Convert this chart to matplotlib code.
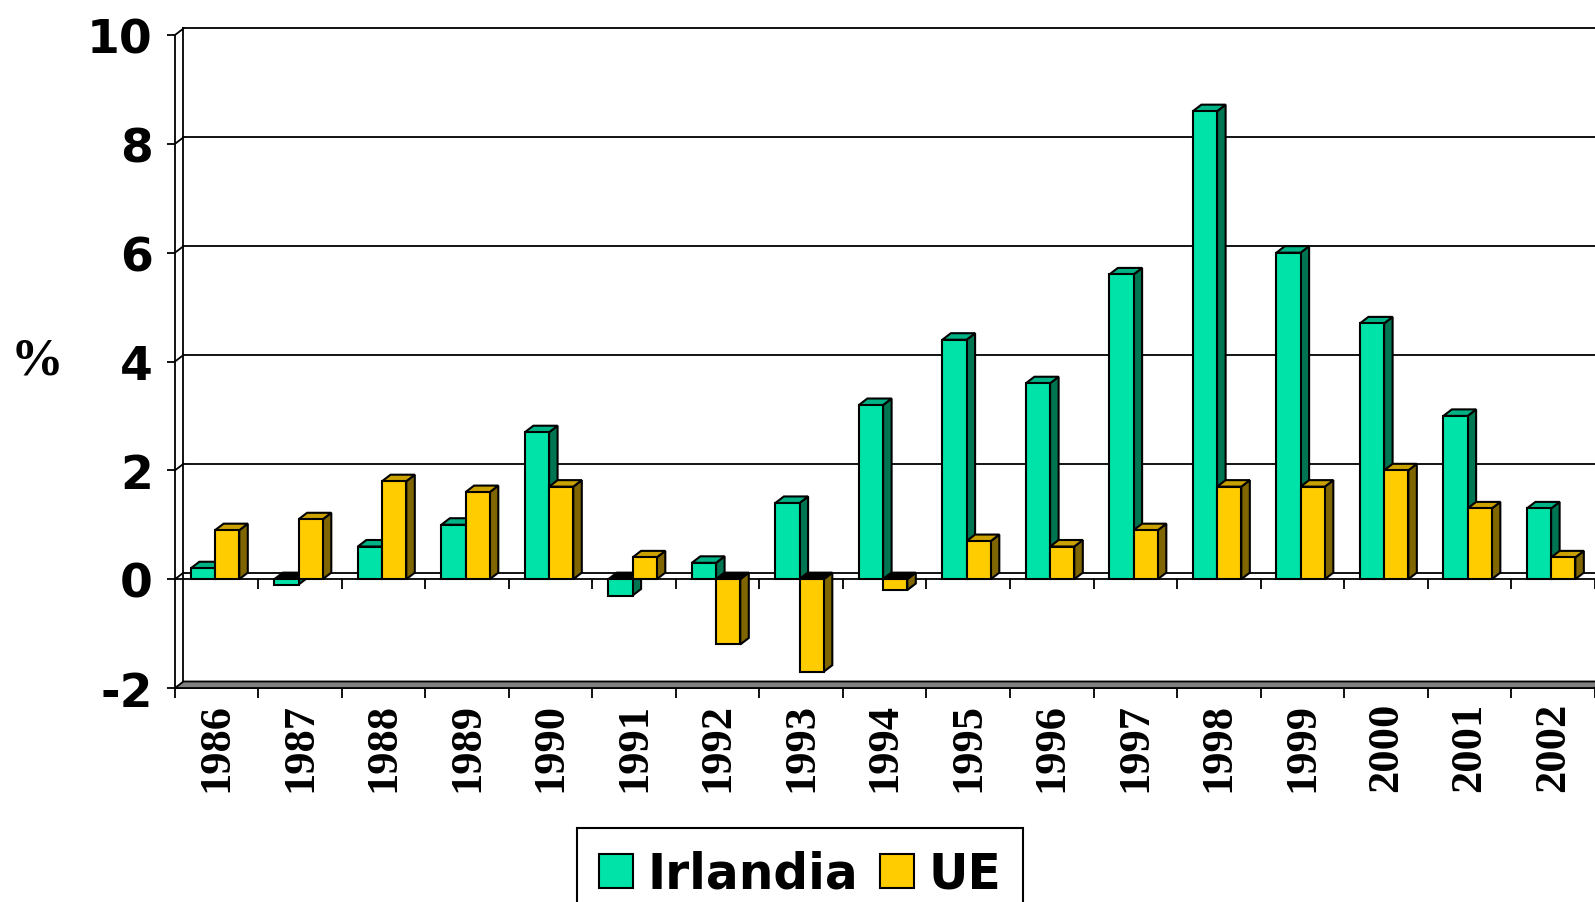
import numpy as np
import matplotlib.pyplot as plt
from matplotlib.patches import Polygon, Patch

years = ['1986', '1987', '1988', '1989', '1990', '1991', '1992', '1993', '1994',
         '1995', '1996', '1997', '1998', '1999', '2000', '2001', '2002']
irlandia = [0.2, -0.1, 0.6, 1.0, 2.7, -0.3, 0.3, 1.4, 3.2, 4.4, 3.6, 5.6, 8.6, 6.0, 4.7, 3.0, 1.3]
ue = [0.9, 1.1, 1.8, 1.6, 1.7, 0.4, -1.2, -1.7, -0.2, 0.7, 0.6, 0.9, 1.7, 1.7, 2.0, 1.3, 0.4]
yticks = [-2, 0, 2, 4, 6, 8, 10]

# front / side / top colours
green = ('#00E3A8', '#007552', '#00B386')
yellow = ('#FFCC00', '#806600', '#C9A100')

dx, dy = 0.102, 0.12   # fake 3D depth, data units
w = 0.29
n = len(years)
x = np.arange(n)

fig = plt.figure(figsize=(15.95, 9.03), dpi=100)
ax = fig.add_axes([0.1097, 0.2189, 0.89, 0.7593])
ax.set_xlim(0, n)
ax.set_ylim(-2.3, 10.3)

# back wall gridlines + little diagonals from the front axis
for v in yticks[1:]:
    ax.plot([dx, n + dx], [v + dy, v + dy], color='black', lw=1.3, zorder=1, clip_on=False)
    ax.plot([0, dx], [v, v + dy], color='black', lw=1.3, zorder=1, clip_on=False)
ax.plot([dx, dx], [-2 + dy, 10 + dy], color='black', lw=1.3, zorder=1)
# front edge of the zero plane with its ticks
ax.plot([0, n], [0, 0], color='black', lw=1.3, zorder=1)
ax.vlines(np.arange(1, n + 1), -0.18, 0, color='black', lw=1.3, zorder=1, clip_on=False)
# floor
ax.add_patch(Polygon([(0, -2), (n, -2), (n + dx, -2 + dy), (dx, -2 + dy)],
                     closed=True, facecolor='#808080', edgecolor='black', lw=1.3, zorder=1,
                     clip_on=False))


def bars3d(x0, vals, cols, z):
    ax.bar(x0, vals, width=w, align='edge', color=cols[0], edgecolor='black', lw=1.5, zorder=z + 1)
    for xi, v in zip(x0, vals):
        side = [(xi + w, 0), (xi + w, v), (xi + w + dx, v + dy), (xi + w + dx, dy)]
        ax.add_patch(Polygon(side, closed=True, facecolor=cols[1], edgecolor='black', lw=1.5, zorder=z))
        top_v = max(v, 0)
        top = [(xi, top_v), (xi + w, top_v), (xi + w + dx, top_v + dy), (xi + dx, top_v + dy)]
        fc = cols[2] if v > 0 else 'black'
        ax.add_patch(Polygon(top, closed=True, facecolor=fc, edgecolor='black', lw=1.5, zorder=z))


bars3d(x + 0.5 - 0.31, irlandia, green, 3)
bars3d(x + 0.5 - 0.02, ue, yellow, 5)

for s in ['top', 'right']:
    ax.spines[s].set_visible(False)
ax.spines['left'].set_bounds(-2, 10)
ax.spines['left'].set_linewidth(1.3)
ax.spines['bottom'].set_position(('data', -2))
ax.spines['bottom'].set_bounds(0, n)
ax.spines['bottom'].set_linewidth(1.3)
ax.spines['bottom'].set_zorder(0)

ax.set_yticks(yticks)
ax.set_yticklabels([str(v) for v in yticks], fontsize=34, fontweight='bold', family='DejaVu Sans')
ax.tick_params(axis='y', direction='out', length=6, width=1.3, pad=10)

ax.set_xticks(x + 0.5)
ax.set_xticklabels(years, rotation=90, fontsize=32, fontweight='bold', family='Liberation Serif')
ax.set_xticks(np.arange(n + 1), minor=True)
ax.tick_params(axis='x', which='major', length=0, pad=10)
ax.tick_params(axis='x', which='minor', direction='out', length=7, width=1.3)

fig.text(0.023, 0.6, '%', fontsize=38, fontweight='bold', family='Liberation Serif',
         ha='center', va='center')

handles = [Patch(facecolor=green[0], edgecolor='black', lw=1.5, label='Irlandia'),
           Patch(facecolor=yellow[0], edgecolor='black', lw=1.5, label='UE')]
leg = fig.legend(handles=handles, loc='upper center', bbox_to_anchor=(0.5016, 0.082), ncol=2,
                 prop={'family': 'DejaVu Sans', 'weight': 'bold', 'size': 35},
                 frameon=True, fancybox=False, framealpha=1, edgecolor='black',
                 handlelength=0.7, handleheight=0.7, handletextpad=0.3, columnspacing=0.45,
                 borderpad=0.45, borderaxespad=0)
leg.get_frame().set_linewidth(1.5)

fig.savefig('out.png', dpi=100)
